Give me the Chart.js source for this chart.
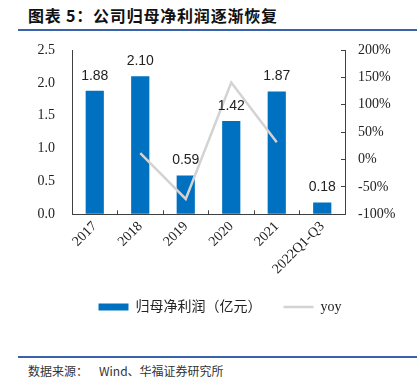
<!DOCTYPE html>
<html>
<head>
<meta charset="utf-8">
<script src="https://cdn.jsdelivr.net/npm/chart.js@4/dist/chart.umd.min.js"></script>
<style>
  html, body { margin: 0; padding: 0; background: #fff; overflow: hidden; }
  body { width: 417px; height: 381px; position: relative; }
  .title { position: absolute; left: 28px; top: 3px; font: bold 16px "Noto Sans CJK SC", sans-serif; color: #111; letter-spacing: 0.8px; white-space: nowrap; }
  .rule { position: absolute; left: 18px; right: 0; height: 1.5px; background: #3a62ab; }
  .foot { position: absolute; left: 28px; top: 362px; font: 12px "Noto Sans CJK SC", sans-serif; color: #333; white-space: nowrap; }
  .foot span { margin-left: 11px; }
  #wrap { position: absolute; left: 0; top: 36px; width: 440px; height: 300px; }
</style>
</head>
<body>
<div class="title">图表 5：公司归母净利润逐渐恢复</div>
<div class="rule" style="top:29px"></div>
<div id="wrap"><canvas id="profit"></canvas></div>
<div class="rule" style="top:356px"></div>
<div class="foot">数据来源：<span>Wind、华福证券研究所</span></div>
<script>
var years = ["2017", "2018", "2019", "2020", "2021", "2022Q1-Q3"];
var profit = [1.88, 2.10, 0.59, 1.42, 1.87, 0.18];
var yoy = [null, 11.7, -71.9, 140.7, 31.7, null];
var leftTicks = [0, 0.5, 1.0, 1.5, 2.0, 2.5];
var rightTicks = [-100, -50, 0, 50, 100, 150, 200];

// value labels above the bars
var barLabels = {
  id: 'barLabels',
  afterDatasetsDraw: function(chart) {
    var ctx = chart.ctx;
    var meta = chart.getDatasetMeta(0);
    ctx.save();
    ctx.font = '14px "Liberation Sans", sans-serif';
    ctx.fillStyle = '#222';
    ctx.textAlign = 'center';
    ctx.textBaseline = 'middle';
    meta.data.forEach(function(bar, i) {
      ctx.fillText(profit[i].toFixed(2), bar.x, bar.y - 15);
    });
    ctx.restore();
  }
};

var ctx = document.getElementById("profit").getContext('2d');
var chart = new Chart(ctx, {
  type: 'bar',
  plugins: [barLabels],
  data: {
    labels: years,
    datasets: [{
      label: '归母净利润（亿元）',
      data: profit,
      backgroundColor: '#0070c0',
      borderWidth: 0,
      barPercentage: 0.4,
      categoryPercentage: 1,
      pointStyle: 'rect',
      yAxisID: 'y',
      order: 2
    }, {
      type: 'line',
      label: 'yoy',
      data: yoy,
      borderColor: '#d3d3d3',
      backgroundColor: '#d3d3d3',
      borderWidth: 2.5,
      pointRadius: 0,
      pointStyle: 'line',
      tension: 0,
      yAxisID: 'y1',
      order: 1
    }]
  },
  options: {
    responsive: true,
    maintainAspectRatio: false,
    animation: false,
    layout: { padding: { top: 14, left: 0, right: 0, bottom: 12 } },
    plugins: {
      tooltip: { enabled: false },
      legend: {
        position: 'bottom',
        labels: {
          usePointStyle: true,
          pointStyleWidth: 30,
          boxWidth: 30,
          boxHeight: 7,
          padding: 22,
          color: '#222',
          sort: function(a, b) { return a.datasetIndex - b.datasetIndex; },
          font: { family: '"Liberation Serif", "Noto Sans CJK SC"', size: 14 }
        }
      }
    },
    scales: {
      x: {
        offset: true,
        afterFit: function(s) { s.height -= 7.5; },
        grid: { offset: true, drawOnChartArea: false, tickLength: -4, color: '#404040' },
        border: { color: '#404040', width: 1 },
        ticks: {
          minRotation: 45, maxRotation: 45, padding: 8,
          color: '#222',
          font: { family: '"Liberation Serif"', size: 14 }
        }
      },
      y: {
        position: 'left',
        min: 0, max: 2.5,
        afterFit: function(s) { s.width = 72; s.paddingTop = 8; s.paddingBottom = 8; },
        afterBuildTicks: function(s) { s.ticks = leftTicks.map(function(v) { return { value: v }; }); },
        grid: { display: true, drawOnChartArea: false, drawTicks: false },
        border: { color: '#404040', width: 1 },
        ticks: {
          padding: 17,
          color: '#222',
          font: { family: '"Liberation Serif"', size: 14 },
          callback: function(v) { return v.toFixed(1); }
        }
      },
      y1: {
        position: 'right',
        min: -100, max: 200,
        afterFit: function(s) { s.width = 95; s.paddingTop = 8; s.paddingBottom = 8; },
        afterBuildTicks: function(s) { s.ticks = rightTicks.map(function(v) { return { value: v }; }); },
        grid: { drawOnChartArea: false, tickLength: -4, color: '#404040' },
        border: { color: '#404040', width: 1 },
        ticks: {
          padding: 17,
          color: '#222',
          font: { family: '"Liberation Serif"', size: 14 },
          callback: function(v) { return v + '%'; }
        }
      }
    }
  }
});
</script>
</body>
</html>
